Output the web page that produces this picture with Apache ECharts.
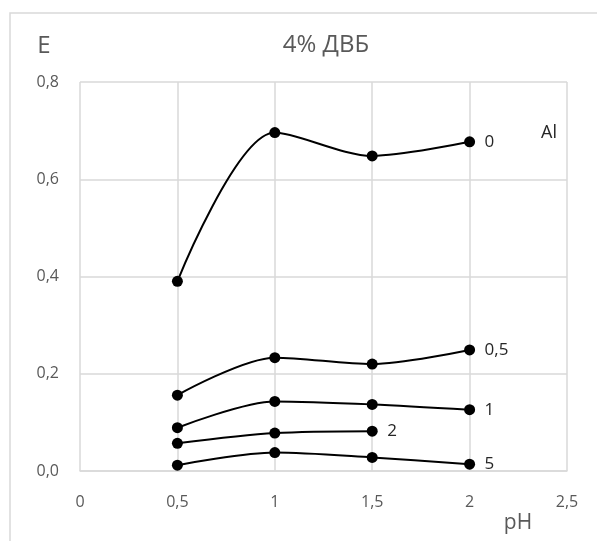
<!DOCTYPE html>
<html>
<head>
<meta charset="utf-8">
<script src="https://cdn.jsdelivr.net/npm/echarts@6/dist/echarts.min.js"></script>
<style>html,body{margin:0;padding:0;background:#fff;}#c{width:597px;height:541px;}</style>
</head>
<body>
<div id="c"></div>
<script>
var ph = [0.5, 1, 1.5, 2];
var seriesNames = ['0', '0,5', '1', '2', '5'];
var al0 = [0.390, 0.696, 0.648, 0.677];
var al05 = [0.156, 0.233, 0.220, 0.249];
var al1 = [0.089, 0.143, 0.137, 0.126];
var al2 = [0.057, 0.078, 0.082];
var al5 = [0.012, 0.038, 0.028, 0.014];
var allValues = [al0, al05, al1, al2, al5];

var FONT = '"Open Sans", "Noto Sans", sans-serif';
function comma(v, d) { return v.toFixed(d).replace('.', ','); }

var chart = echarts.init(document.getElementById('c'), null, {renderer: 'canvas'});
var series = allValues.map(function (vals, i) {
  return {
    name: seriesNames[i],
    type: 'line',
    data: vals.map(function (v, j) { return [ph[j], v]; }),
    smooth: 0.3,
    symbol: 'circle',
    symbolSize: 11,
    itemStyle: {color: '#000'},
    lineStyle: {color: '#000', width: 2},
    endLabel: {show: true, formatter: seriesNames[i], distance: 15, color: '#262626', fontSize: 17, fontFamily: FONT},
    animation: false
  };
});

chart.setOption({
  animation: false,
  grid: {left: 80, right: 30, top: 82, bottom: 70},
  xAxis: {
    type: 'value', min: 0, max: 2.5, interval: 0.5,
    axisLine: {show: true, lineStyle: {color: '#d9d9d9', width: 1.5}},
    axisTick: {show: false},
    splitLine: {show: true, lineStyle: {color: '#d9d9d9', width: 1.5}},
    axisLabel: {color: '#595959', fontSize: 16, fontFamily: FONT, margin: 23,
      formatter: function (v) { return v % 1 === 0 ? String(v) : comma(v, 1); }}
  },
  yAxis: {
    type: 'value', min: 0, max: 0.8, interval: 0.2,
    axisLine: {show: false},
    axisTick: {show: false},
    splitLine: {show: true, lineStyle: {color: '#d9d9d9', width: 1.5}},
    axisLabel: {color: '#595959', fontSize: 16, fontFamily: FONT, margin: 21,
      formatter: function (v) { return comma(v, 1); }}
  },
  graphic: [
    {type: 'rect', shape: {x: 10, y: 13, width: 620, height: 560}, style: {fill: 'none', stroke: '#d9d9d9', lineWidth: 1.5}, silent: true},
    {type: 'text', x: 44, y: 46, style: {text: 'E', fill: '#595959', fontSize: 24, fontFamily: FONT, textAlign: 'center', textVerticalAlign: 'middle'}},
    {type: 'text', x: 326, y: 45, style: {text: '4% ДВБ', fill: '#595959', fontSize: 24, fontFamily: FONT, textAlign: 'center', textVerticalAlign: 'middle'}},
    {type: 'text', x: 549, y: 133, style: {text: 'Al', fill: '#262626', fontSize: 18, fontFamily: FONT, textAlign: 'center', textVerticalAlign: 'middle'}},
    {type: 'text', x: 518, y: 523, style: {text: 'pH', fill: '#595959', fontSize: 21, fontFamily: FONT, textAlign: 'center', textVerticalAlign: 'middle'}}
  ],
  series: series
});
</script>
</body>
</html>
